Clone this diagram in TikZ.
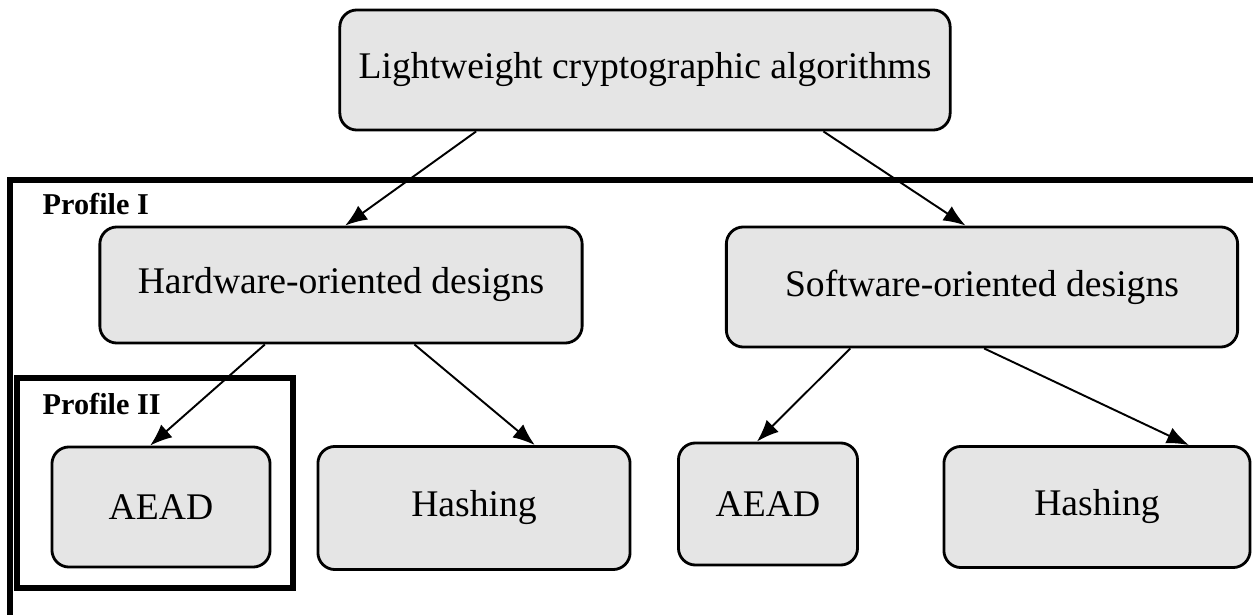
\documentclass[tikz,border=0pt]{standalone}
\usepackage{fontspec}
\setmainfont{Liberation Serif}
\usetikzlibrary{arrows.meta}

\begin{document}
\begin{tikzpicture}[x=0.01cm,y=-0.01cm,
	box/.style={draw,line width=0.8pt,rounded corners=0.17cm,fill=black!10,inner sep=0pt,font=\fontsize{10.7}{12}\selectfont},
	frame/.style={draw,line width=1.5pt},
	tag/.style={anchor=base west,inner sep=0pt,font=\bfseries\fontsize{8.6}{10}\selectfont},
	link/.style={-{Latex[length=2.2mm,width=1.7mm]},line width=0.55pt}]
	\path[use as bounding box,clip] (0,0) rectangle (1253,615);
	% profile frames
	\draw[frame] (10,180) rectangle (1270,640);
	\draw[frame] (17,378) rectangle (293,588);
	\node[tag] (prof1) at (42,215) {Profile I};
	\node[tag] (prof2) at (42,415) {Profile II};
	% boxes
	\node[box,minimum width=6.1cm,minimum height=1.2cm] (lwc) at (645,70) {Lightweight cryptographic algorithms};
	\node[box,minimum width=4.82cm,minimum height=1.16cm] (hw) at (341,285) {Hardware-oriented designs};
	\node[box,minimum width=5.11cm,minimum height=1.2cm] (sw) at (982,287) {Software-oriented designs};
	\node[box,minimum width=2.18cm,minimum height=1.2cm] (hwaead) at (161,507) {AEAD};
	\node[box,minimum width=3.12cm,minimum height=1.23cm] (hwhash) at (474,508) {Hashing};
	\node[box,minimum width=1.79cm,minimum height=1.22cm] (swaead) at (768,504) {AEAD};
	\node[box,minimum width=3.06cm,minimum height=1.21cm] (swhash) at (1097,507) {Hashing};
	% arrows
	\draw[link] (lwc.200.6) -- (hw.86.1);
	\draw[link] (lwc.341.6) -- (sw.105.8);
	\draw[link] (hw.218.1) -- (hwaead.100.4);
	\draw[link] (hw.321.9) -- (hwhash.46.4);
	\draw[link] (sw.205.6) -- (swaead.100.2);
	\draw[link] (sw.272.9) -- (swhash.34.3);
\end{tikzpicture}
\end{document}
